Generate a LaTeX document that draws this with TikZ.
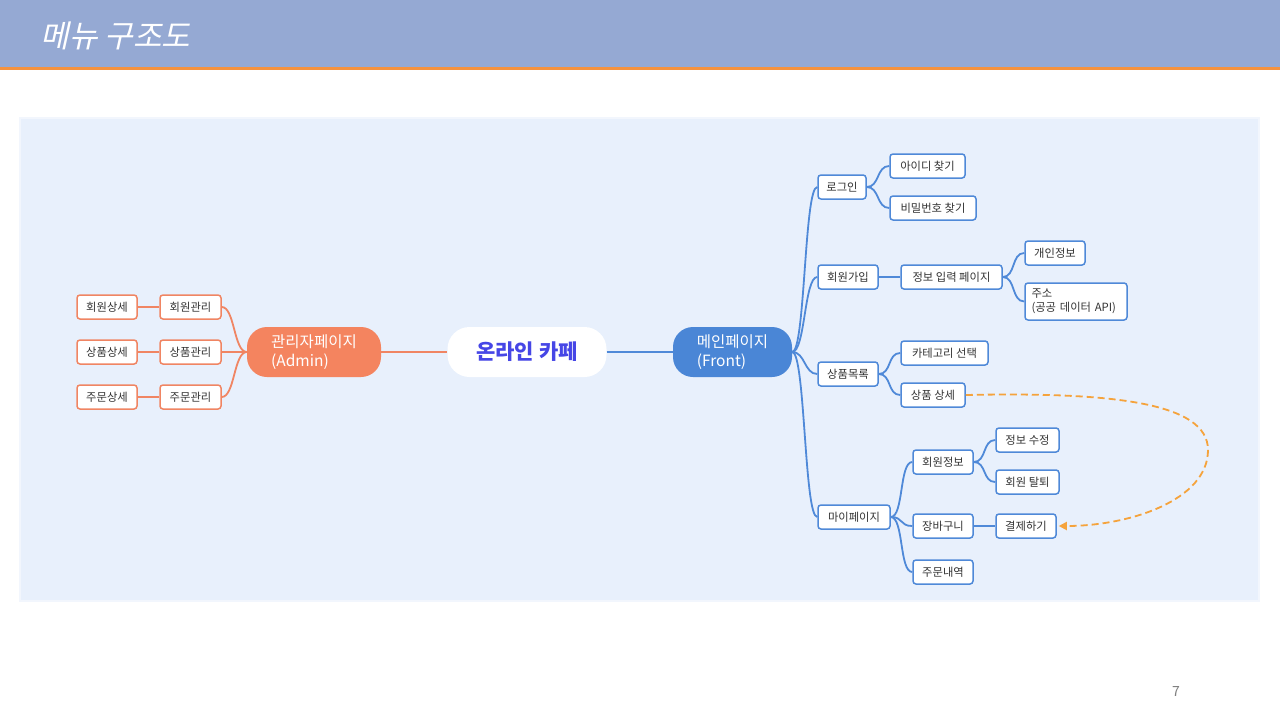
\documentclass[tikz,border=0pt]{standalone}
\usepackage{fontspec}
\setmainfont{Noto Sans CJK KR}
\newfontfamily\titlefont[FakeSlant=0.22]{Noto Sans CJK KR}
\usetikzlibrary{arrows.meta}
\definecolor{titlebar}{HTML}{95A9D3}
\definecolor{orangeline}{HTML}{F5923E}
\definecolor{panel}{HTML}{E8F0FC}
\definecolor{panelborder}{HTML}{F2F6FD}
\definecolor{ofill}{HTML}{F4845F}
\definecolor{oline}{HTML}{F08563}
\definecolor{bfill}{HTML}{4A86D6}
\definecolor{bline}{HTML}{4F89D8}
\definecolor{txt}{HTML}{333333}
\definecolor{rootc}{HTML}{4646E6}
\definecolor{dashc}{HTML}{F5A33C}
\tikzset{
  lbox/.style={draw, line width=1.5pt, rounded corners=3pt, fill=white,
    minimum height=24pt, inner xsep=6pt, inner ysep=2pt,
    font=\fontsize{11.3}{14}\selectfont, text=txt},
  obox/.style={lbox, draw=oline},
  bbox/.style={lbox, draw=bline},
  ocon/.style={draw=oline, line width=1.8pt},
  bcon/.style={draw=bline, line width=1.8pt},
  pill/.style={rounded corners=20pt, minimum height=50pt, align=left,
    font=\fontsize{15.5}{19}\selectfont, text=white, inner xsep=2pt},
}
\newcommand\curveR[3]{\draw[#1] (#2.east) .. controls +(13,0) and +(-13,0) .. (#3.west);}
\newcommand\curveL[3]{\draw[#1] (#2.west) .. controls +(-13,0) and +(13,0) .. (#3.east);}
\begin{document}
\begin{tikzpicture}[x=1pt,y=-1pt]
\useasboundingbox (0,0) rectangle (1280,720);
\fill[white] (0,0) rectangle (1280,720);
% title bar
\fill[titlebar] (0,0) rectangle (1280,67);
\fill[orangeline] (0,67) rectangle (1280,70);
\node[anchor=west, text=white, font=\titlefont\fontsize{31}{34}\selectfont] (title) at (37,36) {메뉴 구조도};
% panel
\draw[panelborder, fill=panel, line width=1.5pt] (20,118) rectangle (1259,601);
% central
\node[pill, fill=white, text=rootc, minimum width=159pt, rounded corners=22pt, align=center,
  font=\fontsize{21}{24}\selectfont\bfseries] (root) at (527,352) {온라인 카페};
\node[pill, fill=ofill, minimum width=134pt] (admin) at (314,352) {관리자페이지\\(Admin)};
\node[pill, fill=bfill, minimum width=119pt] (front) at (732.5,352) {메인페이지\\(Front)};
\draw[ocon] (admin.east) -- (root.west);
\draw[bcon] (root.east) -- (front.west);
% admin side
\node[obox, minimum width=61pt] (m1) at (190.5,307) {회원관리};
\node[obox, minimum width=61pt] (m2) at (190.5,352) {상품관리};
\node[obox, minimum width=61pt] (m3) at (190.5,397) {주문관리};
\node[obox, minimum width=60pt] (d1) at (107,307) {회원상세};
\node[obox, minimum width=60pt] (d2) at (107,352) {상품상세};
\node[obox, minimum width=60pt] (d3) at (107,397) {주문상세};
\curveL{ocon}{admin}{m1}
\curveL{ocon}{admin}{m2}
\curveL{ocon}{admin}{m3}
\draw[ocon] (m1.west) -- (d1.east);
\draw[ocon] (m2.west) -- (d2.east);
\draw[ocon] (m3.west) -- (d3.east);
% front side level 1
\node[bbox, minimum width=48pt] (login) at (842,187) {로그인};
\node[bbox, minimum width=60pt] (join) at (848,277) {회원가입};
\node[bbox, minimum width=60pt] (plist) at (848,374) {상품목록};
\node[bbox, minimum width=72pt] (mypage) at (854,517) {마이페이지};
\curveR{bcon}{front}{login}
\curveR{bcon}{front}{join}
\curveR{bcon}{front}{plist}
\curveR{bcon}{front}{mypage}
% login
\node[bbox, minimum width=75pt] (findid) at (927.5,166) {아이디 찾기};
\node[bbox, minimum width=86pt] (findpw) at (933,208) {비밀번호 찾기};
\curveR{bcon}{login}{findid}
\curveR{bcon}{login}{findpw}
% join
\node[bbox, minimum width=101pt] (info) at (951.5,277) {정보 입력 페이지};
\draw[bcon] (join.east) -- (info.west);
\node[bbox, minimum width=60pt] (pinfo) at (1055,253) {개인정보};
\node[bbox, minimum width=102pt, minimum height=37pt, align=left, text width=89pt] (addr) at (1076,301.5) {주소\\(공공 데이터 API)};
\curveR{bcon}{info}{pinfo}
\curveR{bcon}{info}{addr}
% product list
\node[bbox, minimum width=87pt] (cat) at (944.5,353) {카테고리 선택};
\node[bbox, minimum width=64pt] (pdet) at (933,395) {상품 상세};
\curveR{bcon}{plist}{cat}
\curveR{bcon}{plist}{pdet}
% my page
\node[bbox, minimum width=60pt] (minfo) at (943,462) {회원정보};
\node[bbox, minimum width=60pt] (cart) at (943,526) {장바구니};
\node[bbox, minimum width=60pt] (orders) at (943,572) {주문내역};
\curveR{bcon}{mypage}{minfo}
\curveR{bcon}{mypage}{cart}
\curveR{bcon}{mypage}{orders}
\node[bbox, minimum width=63pt] (edit) at (1027.5,440) {정보 수정};
\node[bbox, minimum width=63pt] (quit) at (1027.5,482) {회원 탈퇴};
\curveR{bcon}{minfo}{edit}
\curveR{bcon}{minfo}{quit}
\node[bbox, minimum width=60pt] (pay) at (1026,526) {결제하기};
\draw[bcon] (cart.east) -- (pay.west);
% dashed arrow
\coordinate (far) at (1208,450);
\draw[dashc, line width=1.8pt, dash pattern=on 7pt off 4pt, -{Triangle[length=8pt,width=8pt]}]
  (pdet.east) .. controls (1110,392) and (1208,402) .. (far)
  .. controls (1208,500) and (1130,526) .. ([xshift=2pt]pay.east);
% page number
\node[text=gray, font=\fontsize{14}{16}\selectfont] (pnum) at (1176,692) {7};
\end{tikzpicture}
\end{document}
